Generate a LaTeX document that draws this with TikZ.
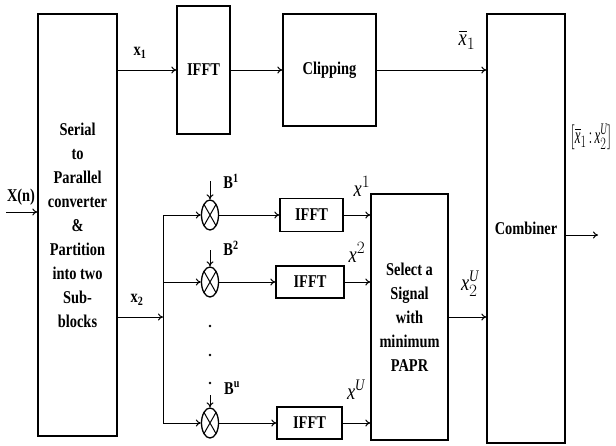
\documentclass[tikz,border=0pt]{standalone}
\usepackage{amsmath}
\usepackage{fontspec}
\setmainfont{Liberation Serif}[FakeStretch=0.8]
\usepackage{graphicx}
\usepackage{tikz}
\usetikzlibrary{arrows.meta,positioning,shapes.geometric}

\begin{document}
\begin{tikzpicture}[x=1pt,y=-1pt,
  blk/.style={rectangle,draw,line width=1.3pt,inner sep=0pt,
              font=\bfseries\fontsize{18}{24}\selectfont,align=center},
  mul/.style={ellipse,draw,line width=1.3pt,minimum width=17pt,
              minimum height=30pt,inner sep=0pt,
              path picture={\draw[line width=1pt]
                (path picture bounding box.north west) -- (path picture bounding box.south east)
                (path picture bounding box.north east) -- (path picture bounding box.south west);}},
  arr/.style={-{To[length=5pt,width=7pt]},line width=1pt},
  bl/.style={font=\bfseries\fontsize{18}{20}\selectfont,inner sep=1pt},
  il/.style={font=\fontsize{23}{24}\selectfont,inner sep=1pt}
]
  \useasboundingbox (0,0) rectangle (616,445);

  % blocks
  \node[blk,minimum width=79pt,minimum height=422pt] (sp) at (77.5,225)
       {Serial\\to\\Parallel\\converter\\\&\\Partition\\into two\\Sub-\\blocks};
  \node[blk,minimum width=53pt,minimum height=128pt] (if1) at (203.5,70) {IFFT};
  \node[blk,minimum width=93pt,minimum height=112pt] (clip) at (329.5,70) {Clipping};
  \node[blk,minimum width=78pt,minimum height=429pt] (comb) at (526,228.5) {Combiner};
  \node[blk,minimum width=77pt,minimum height=246pt] (sel) at (409.5,317)
       {Select a\\Signal\\with\\minimum\\PAPR};
  \node[blk,minimum width=63pt,minimum height=33pt] (ifA) at (311.5,215) {IFFT};
  \node[blk,minimum width=68pt,minimum height=32pt] (ifB) at (310,282) {IFFT};
  \node[blk,minimum width=65pt,minimum height=32pt] (ifC) at (309.5,423) {IFFT};

  % multipliers
  \node[mul] (m1) at (210,215) {};
  \node[mul] (m2) at (210,282) {};
  \node[mul] (m3) at (210,423) {};

  % labels
  \node[bl] (lxn) at (21,197) {X(n)};
  \node[bl] (lx1) at (140,53) {x\textsubscript{1}};
  \node[bl] (lx2) at (137,300) {x\textsubscript{2}};
  \node[bl] (lb1) at (231,181) {B\textsuperscript{1}};
  \node[bl] (lb2) at (231,248) {B\textsuperscript{2}};
  \node[bl] (lbu) at (232,388) {B\textsuperscript{u}};
  \node[il] (lxb1) at (467,40) {$\overline{\textit{x}}_1$};
  \node[il] (lxs1) at (362,186) {$\textit{x}^{1}$};
  \node[il] (lxs2) at (357,252) {$\textit{x}^{2}$};
  \node[il] (lxsu) at (356,390) {$\textit{x}^{\textit{U}}$};
  \node[il] (lx2u) at (470,284) {$\textit{x}_2^{\textit{U}}$};
  \node[il] (lout) at (591,137)
       {\scalebox{0.7}[1]{$[\overline{\textit{x}}_1\!:\!\textit{x}_2^{\textit{U}}]$}};

  \foreach \y in {326,355,383}
    \fill (210,\y) circle (1.3pt);

  % connectors
  \coordinate (in) at (6,212);
  \coordinate (bus) at (163,317);
  \coordinate (out) at (598,235);
  \draw[arr] (in) -- (in -| sp.west);
  \draw[arr] (sp.east |- if1) -- (if1.west);
  \draw[arr] (if1) -- (clip);
  \draw[arr] (clip.east) -- (clip.east -| comb.west);
  \draw[arr] (sp.east |- bus) -- (bus);
  \draw[line width=1pt] (bus |- m1) -- (bus |- m3);
  \draw[arr] (bus |- m1) -- (m1);
  \draw[arr] (bus |- m2) -- (m2);
  \draw[arr] (bus |- m3) -- (m3);
  \draw[arr] ([yshift=18pt]m1.north) -- (m1.north);
  \draw[arr] ([yshift=16pt]m2.north) -- (m2.north);
  \draw[arr] ([yshift=12pt]m3.north) -- (m3.north);
  \draw[arr] (m1.east) -- (m1.east -| ifA.west);
  \draw[arr] (m2.east) -- (m2.east -| ifB.west);
  \draw[arr] (m3.east) -- (m3.east -| ifC.west);
  \draw[arr] (ifA.east) -- (ifA.east -| sel.west);
  \draw[arr] (ifB.east) -- (ifB.east -| sel.west);
  \draw[arr] (ifC.east) -- (ifC.east -| sel.west);
  \draw[arr] (sel.east) -- (sel.east -| comb.west);
  \draw[arr] (comb.east |- out) -- (out);
\end{tikzpicture}
\end{document}
